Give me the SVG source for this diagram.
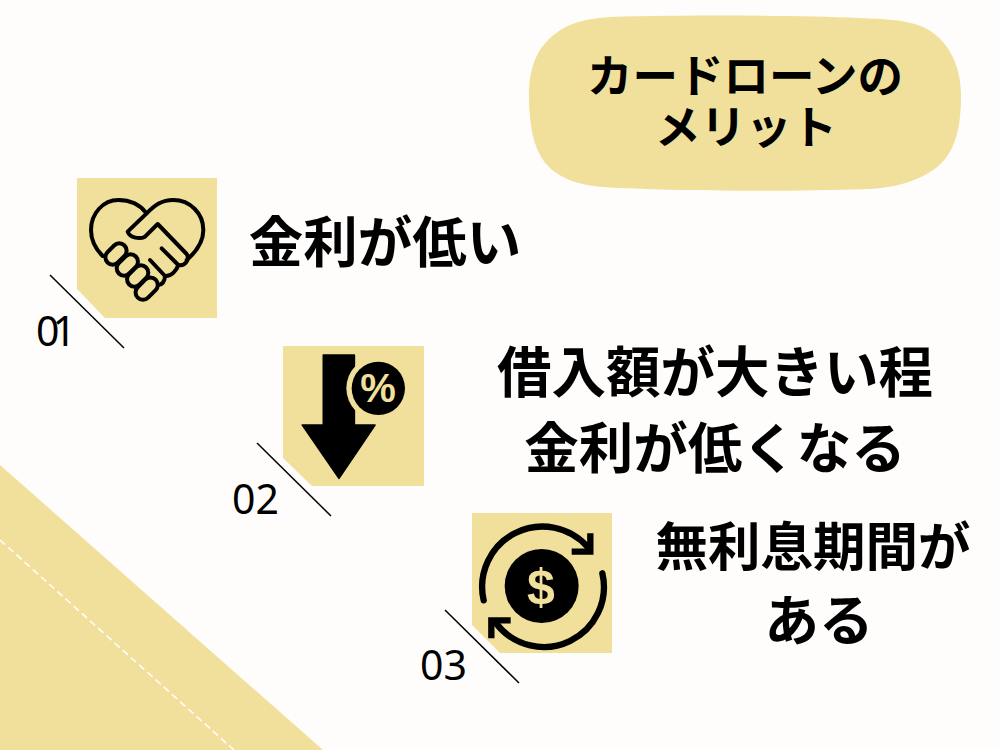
<svg xmlns="http://www.w3.org/2000/svg" width="1000" height="750" viewBox="0 0 1000 750">
<style>
.y{fill:#f0e09c}
.t{font-family:"Noto Sans CJK JP","Noto Sans",sans-serif;font-weight:700;fill:#000;text-anchor:middle}
.h{font-size:45.5px}
.b{font-size:54.5px}
.m{font-size:52.5px}
.n{font-family:"Noto Sans",sans-serif;font-size:41px;fill:#000;text-anchor:start}
.l{stroke:#000;stroke-width:1.5;fill:none}
.i{fill:none;stroke:#000;stroke-linecap:round;stroke-linejoin:round}
.g{font-family:"Liberation Sans",sans-serif;font-weight:700;fill:#f0e09c;text-anchor:middle}
</style>
<rect width="1000" height="750" fill="#fffdfb"/>
<g id="corner">
<path class="y" d="M0,465L323,750H0Z"/>
<path d="M0,540L234,750" fill="none" stroke="#fffdfb" stroke-width="1.6" stroke-dasharray="7 4"/>
</g>
<g id="title">
<path class="y" d="M610,17C690,15 790,15 860,18C885,19 900,20 915,24C945,33 961,62 961,95C961,120 958,140 948,155C935,175 905,187 870,189C780,192 690,191 620,188C590,187 570,183 555,172C535,158 529,130 529,95C529,60 542,38 570,25C582,20 595,18 610,17Z"/>
<text class="t h" x="745" y="93">カードローンの</text>
<text class="t h" x="746" y="144">メリット</text>
</g>
<g id="item1">
<path class="y" d="M77,178H217V318H105L77,289Z"/>
<line class="l" x1="50" y1="275" x2="124" y2="348"/>
<text class="n" x="36" y="346" letter-spacing="-7">01</text>
<g transform="translate(30,170) scale(.33333)">
<g class="i" stroke-width="12">
<path d="M218,258C195,235 183,210 183,180C183,130 220,90 265,90C300,90 330,105 348,128"/>
<path d="M470,270C505,240 520,210 520,180C520,130 480,90 430,90C395,90 375,105 350,130L293,185C300,205 330,208 345,200L383,162L470,252C480,268 465,290 445,285L395,235"/>
<path d="M445,285C440,300 425,320 405,318L360,270"/>
<path d="M405,318C405,335 395,345 385,345"/>
<rect x="222" y="230" width="72" height="44" rx="22" transform="rotate(-45 258 252)"/>
<rect x="256" y="263" width="72" height="44" rx="22" transform="rotate(-45 292 285)"/>
<rect x="287" y="296" width="72" height="44" rx="22" transform="rotate(-45 323 318)"/>
<rect x="312" y="334" width="76" height="44" rx="22" transform="rotate(-45 350 356)"/>
</g>
</g>
<text class="t b" x="385" y="262">金利が低い</text>
</g>
<g id="item2">
<path class="y" d="M283,346H424V486H312L283,458Z"/>
<line class="l" x1="257" y1="443" x2="331" y2="516"/>
<text class="n" x="232" y="514">02</text>
<g transform="translate(225,340) scale(.33333)">
<path d="M295,45H388V255H450L342,415L232,255H295Z" stroke="#000" stroke-width="5" stroke-linejoin="round"/>
<circle class="y" cx="460" cy="145" r="96"/>
<circle cx="460" cy="145" r="80"/>
</g>
<text class="g" x="378" y="402" font-size="40">%</text>
<text class="t b" x="715" y="392">借入額が大きい程</text>
<text class="t b" x="715" y="468">金利が低くなる</text>
</g>
<g id="item3">
<path class="y" d="M472,513H612V653H500L472,625Z"/>
<line class="l" x1="445" y1="610" x2="519" y2="683"/>
<text class="n" x="420" y="680">03</text>
<g transform="translate(415,505) scale(.33333)">
<circle cx="380" cy="243" r="111"/>
<g class="i" stroke-width="19">
<path d="M206,286A181,181 0 0 1 520,128"/>
<path d="M562,205A180,180 0 0 1 245,357"/>
</g>
<path d="M526,85V140H470" fill="none" stroke="#000" stroke-width="19"/>
<path d="M229,400V346H287" fill="none" stroke="#000" stroke-width="19"/>
</g>
<text class="g" x="541" y="604" font-size="50">$</text>
<text class="t m" x="813" y="566">無利息期間が</text>
<text class="t b" x="819" y="640">ある</text>
</g>
</svg>
